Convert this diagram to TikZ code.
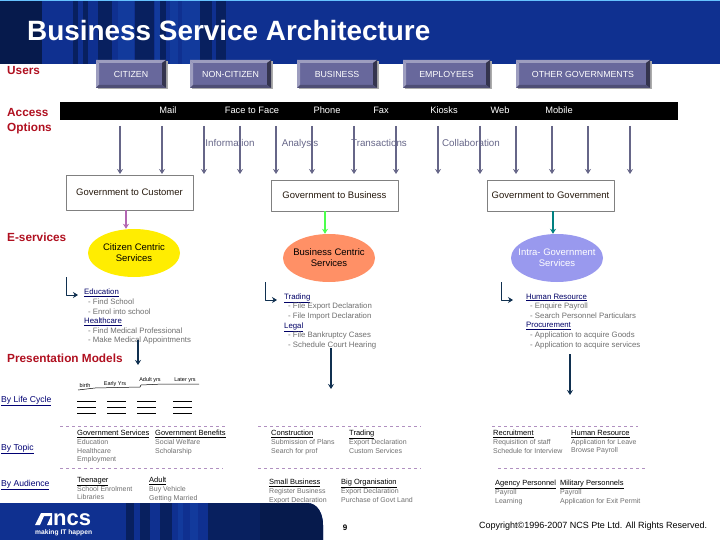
\documentclass[tikz,border=0pt]{standalone}
\usepackage{fontspec}
\setmainfont{Liberation Sans}
\usetikzlibrary{arrows.meta,shadows,shapes.geometric}
\definecolor{bandblue}{HTML}{0F3090}
\definecolor{banddark}{HTML}{08205F}
\definecolor{bandnight}{HTML}{061A4C}
\definecolor{bandmid}{HTML}{123A9C}
\definecolor{btnface}{HTML}{68689C}
\definecolor{redlabel}{HTML}{B01020}
\definecolor{arrowgray}{HTML}{666688}
\definecolor{navyarrow}{HTML}{103050}
\definecolor{itemgray}{HTML}{6E6E6E}
\definecolor{dashpurple}{HTML}{B090C0}
\definecolor{intrablue}{HTML}{9999EE}
\newcommand{\hdtxt}[1]{\underline{#1}}
\newcommand{\hdblue}[1]{\textcolor{blue!40!black}{\underline{#1}}}
\tikzset{
	userbtn/.style={fill=btnface,text=white,inner sep=0pt,font=\fontsize{8.8}{10}\selectfont,drop shadow={shadow xshift=1.5pt,shadow yshift=-1.5pt,opacity=1,fill=gray!65},
		path picture={
			\coordinate (nw) at (path picture bounding box.north west);
			\coordinate (ne) at (path picture bounding box.north east);
			\coordinate (sw) at (path picture bounding box.south west);
			\coordinate (se) at (path picture bounding box.south east);
			\fill[btnface!65!white] (nw)--(ne)--([xshift=-4pt,yshift=-3pt]ne)--([xshift=3pt,yshift=-3pt]nw)--cycle;
			\fill[btnface!65!white] (nw)--(sw)--([xshift=3pt,yshift=3pt]sw)--([xshift=3pt,yshift=-3pt]nw)--cycle;
			\fill[btnface!50!black] (ne)--(se)--([xshift=-4pt,yshift=3pt]se)--([xshift=-4pt,yshift=-3pt]ne)--cycle;
			\fill[btnface!75!black] (sw)--(se)--([xshift=-4pt,yshift=3pt]se)--([xshift=3pt,yshift=3pt]sw)--cycle;
		}},
	accesstxt/.style={text=white,inner sep=0pt,text height=7pt,text depth=2pt,font=\fontsize{9.3}{10}\selectfont},
	modetxt/.style={text=arrowgray,inner sep=0pt,text height=7pt,text depth=2pt,font=\fontsize{9.8}{10}\selectfont},
	redtxt/.style={text=redlabel,anchor=base west,inner sep=0pt,align=left,font=\fontsize{11.8}{15}\selectfont\bfseries},
	govbox/.style={draw=gray,line width=.9pt,fill=white,text=black!80!brown,inner sep=0pt,font=\fontsize{9.5}{10}\selectfont},
	svcell/.style={ellipse,minimum width=92pt,minimum height=48pt,inner sep=-14pt,align=center,font=\fontsize{9.5}{11}\selectfont},
	listtxt/.style={anchor=north west,inner sep=0pt,align=left,text=itemgray,execute at begin node={\lineskiplimit=-20pt},font=\fontsize{7.8}{9.6}\selectfont},
	colhead/.style={anchor=north west,inner sep=0pt,align=left,text=itemgray,execute at begin node={\lineskiplimit=-20pt},font=\fontsize{7}{8.6}\selectfont},
	bluelink/.style={anchor=base west,inner sep=0pt,text=blue!45!black,font=\fontsize{8.6}{9}\selectfont},
	yrtxt/.style={anchor=base,inner sep=0pt,font=\fontsize{5.5}{6}\selectfont},
	accessarrow/.style={-{Stealth[width=6pt,length=5pt]},arrowgray,line width=1.5pt},
	feedarrow/.style={-{Stealth[width=6pt,length=5pt]},line width=1.5pt},
	navyline/.style={-{Stealth[width=6pt,length=5pt]},navyarrow,line width=1.2pt},
	splitline/.style={dashed,dashpurple,line width=.7pt}
}
\begin{document}
\begin{tikzpicture}[x=1pt,y=-1pt,line join=round]
	\useasboundingbox (0,0) rectangle (720,540);
	\fill[bandblue] (0,0) rectangle (720,64);
	\fill[blue!40!cyan!60!white] (0,0) rectangle (720,1);
	\fill[bandnight] (0,1) rectangle (42,64);
	\foreach \xa/\xb/\c in {73/78/banddark,83/88/banddark,98/112/banddark,118/134/bandmid,135/154/banddark,155/160/bandmid,160/166/banddark,170/178/bandmid,182/200/bandmid,200/212/banddark,216/226/banddark}
	\fill[\c] (\xa,1) rectangle (\xb,64);
	\fill[bandblue] (0,503) -- (307,503) .. controls (318,503) and (323,514) .. (323,525) -- (323,540) -- (0,540) -- cycle;
	\foreach \xa/\xb/\c in {126/134/banddark,140/150/banddark,160/172/banddark,178/183/bandmid,190/198/bandmid,208/260/banddark}
	\fill[\c] (\xa,503) rectangle (\xb,540);
	\fill[bandnight] (260,503) -- (307,503) .. controls (318,503) and (323,514) .. (323,525) -- (323,540) -- (260,540) -- cycle;
	\node[anchor=base west,inner sep=0pt,text=white,font=\fontsize{27.9}{30}\selectfont\bfseries] (title) at (27,41) {Business Service Architecture};
	\node[redtxt] (users) at (7,75) {Users};
	\node[redtxt] (access) at (7,132) {Access\\Options};
	\node[redtxt] (eserv) at (7,241) {E-services};
	\node[redtxt] (present) at (7,362) {Presentation Models};
	\foreach \nm/\xa/\w/\txt in {citizen/131/70/CITIZEN,noncit/230.5/81/NON-CITIZEN,business/337/80/BUSINESS,employees/446.5/87/EMPLOYEES,othergov/583/134/OTHER GOVERNMENTS}
	\node[userbtn,minimum width=\w pt,minimum height=28pt] (\nm) at (\xa,74) {\txt};
	\fill[black] (60,102) rectangle (678,120);
	\foreach \nm/\xa/\txt in {mail/168/Mail,face/252/Face to Face,phone/327/Phone,fax/381/Fax,kiosks/444/Kiosks,web/500/Web,mobile/559/Mobile}
	\node[accesstxt] (\nm) at (\xa,111) {\txt};
	\foreach \nm/\xa/\txt in {info/230/Information,analysis/300/Analysis,trans/379/Transactions,collab/471/Collaboration}
	\node[modetxt] (\nm) at (\xa,144) {\txt};
	\foreach \i/\xa in {1/120,2/162,3/204,4/240,5/276,6/312,7/354,8/396,9/438,10/480,11/516,12/552,13/588,14/630} {
		\coordinate (up\i) at (\xa,126);
		\coordinate (dn\i) at (\xa,174);
		\draw[accessarrow] (up\i)--(dn\i);
	}
	\node[govbox,minimum width=127pt,minimum height=35pt] (gcust) at (129.5,192.5) {Government to Customer};
	\node[govbox,minimum width=127pt,minimum height=31pt] (gbus) at (334.5,195.5) {Government to Business};
	\node[govbox,minimum width=127pt,minimum height=31pt] (ggov) at (550.5,195.5) {Government to Government};
	\node[svcell,fill=yellow!95!orange] (citsvc) at (134,253) {Citizen Centric\\Services};
	\node[svcell,fill=orange!55!red!60!white] (bussvc) at (329,258) {Business Centric\\Services};
	\node[svcell,fill=intrablue,text=white] (intsvc) at (557,258) {Intra- Government\\Services};
	\draw[feedarrow,violet!60!white] ([xshift=-3.5pt]gcust.south)--([xshift=-8pt]citsvc.north);
	\draw[feedarrow,green!70!white] ([xshift=-9.5pt]gbus.south)--([xshift=-4pt]bussvc.north);
	\draw[feedarrow,teal] ([xshift=2.5pt]ggov.south)--([xshift=-4pt]intsvc.north);
	\node[listtxt] (edulist) at (84,289) {\hdblue{Education}\\\hspace{4pt}- Find School\\\hspace{4pt}- Enrol into school\\\hdblue{Healthcare}\\\hspace{4pt}- Find Medical Professional\\\hspace{4pt}- Make Medical Appointments};
	\node[listtxt] (tradelist) at (284,293.5) {\hdblue{Trading}\\\hspace{4pt}- File Export Declaration\\\hspace{4pt}- File Import Declaration\\\hdblue{Legal}\\\hspace{4pt}- File Bankruptcy Cases\\\hspace{4pt}- Schedule Court Hearing};
	\node[listtxt] (hrlist) at (526,293.5) {\hdblue{Human Resource}\\\hspace{4pt}- Enquire Payroll\\\hspace{4pt}- Search Personnel Particulars\\\hdblue{Procurement}\\\hspace{4pt}- Application to acquire Goods\\\hspace{4pt}- Application to acquire services};
	\foreach \xa/\xb/\ya in {66/78/277,265/277/282,501/513/282}
	\draw[navyline,line width=.9pt] (\xa,\ya)--(\xa,\ya+18)--(\xb,\ya+18);
	\foreach \nm/\xa/\ya/\yb in {edu/138/340/365,trade/331/348/389,hr/570/354/395} {
		\coordinate (\nm go) at (\xa,\ya);
		\coordinate (\nm end) at (\xa,\yb);
		\draw[navyline] (\nm go)--(\nm end);
	}
	% life cycle
	\foreach \nm/\xa/\ya/\txt in {birth/85/387/birth,early/115/385/Early Yrs,adultyr/150/381/Adult yrs,lateryr/185/381/Later yrs}
	\node[yrtxt] (\nm) at (\xa,\ya) {\txt};
	\draw[black,line width=.5pt] (78,390)--(95,388)--(140,387)--(141,385)--(163,384)--(199,384);
	\foreach \xa in {77,107,137,173}
	\foreach \ya in {401,407,413}
	\draw[black,line width=.6pt] (\xa,\ya)--(\xa+19,\ya);
	\foreach \xa/\xb/\ya in {60/226/426,258/421/426,492/638/426,60/223/468,258/421/468,498/645/468}
	\draw[splitline] (\xa,\ya)--(\xb,\ya);
	\foreach \nm/\ya/\txt in {bylife/402/By Life Cycle,bytopic/450/By Topic,byaud/486/By Audience}
	\node[bluelink] (\nm) at (1,\ya) {\underline{\txt}};
	% topic and audience columns
	\foreach \nm/\xa/\ya/\hd/\la/\lb/\lc in {
		topa/77/430/Government Services/Education/Healthcare/Employment,
		topb/155/430/Government Benefits/Social Welfare/Scholarship/,
		topc/271/430/Construction/Submission of Plans/Search for prof/,
		topd/349/430/Trading/Export Declaration/Custom Services/,
		tope/493/430/Recruitment/Requisition of staff/Schedule for Interview/,
		topf/571/430/Human Resource/Application for Leave/Browse Payroll/,
		auda/77/477/Teenager/School Enrolment/Libraries/,
		audb/149/477/Adult/Buy Vehicle/Getting Married/,
		audc/269/479/Small Business/Register Business/Export Declaration/,
		audd/341/479/Big Organisation/Export Declaration/Purchase of Govt Land/,
		aude/495/480/Agency Personnel/Payroll/Learning/,
		audf/560/480/Military Personnels/Payroll/Application for Exit Permit/}
	\node[colhead] (\nm) at (\xa,\ya) {\textcolor{black}{\fontsize{7.5}{8.6}\selectfont\hdtxt{\hd}}\\[.4pt]\la\\\lb\\\lc};
	% footer
	\fill[white] (35,525) -- (41,513) -- (52,513) -- (52,525) -- (47,525) -- (51,516) -- (44,516) -- (40,525) -- cycle;
	\node[anchor=base west,inner sep=0pt,text=white,font=\fontsize{22}{24}\selectfont\bfseries] (logo) at (53,525) {ncs};
	\node[anchor=base west,inner sep=0pt,text=white,font=\fontsize{6.7}{8}\selectfont\bfseries] (tagline) at (35,534) {making IT happen};
	\node[anchor=base,inner sep=0pt,font=\fontsize{8}{9}\selectfont\bfseries] (pageno) at (345,530) {9};
	\node[anchor=base west,inner sep=0pt,font=\fontsize{9}{10}\selectfont] (copy) at (479,528) {Copyright©1996-2007 NCS Pte Ltd. All Rights Reserved.};
\end{tikzpicture}
\end{document}
